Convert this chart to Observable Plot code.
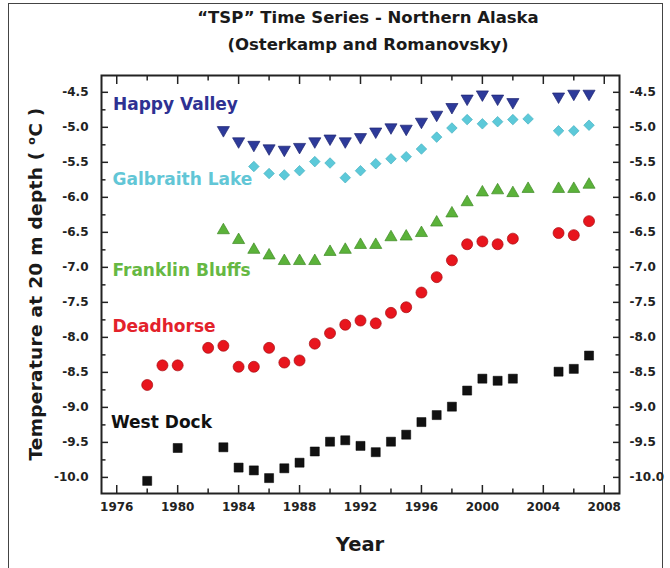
<!DOCTYPE html>
<html><head><meta charset="utf-8">
<script src="https://cdn.jsdelivr.net/npm/d3@7"></script>
<script src="https://cdn.jsdelivr.net/npm/@observablehq/plot@0.6"></script>
<style>
html,body{margin:0;padding:0;background:#fff;}
#wrap{position:relative;width:670px;height:568px;overflow:hidden;font-family:"DejaVu Sans",sans-serif;font-weight:bold;color:#1a1a1a;}
#border{position:absolute;left:8px;top:3px;width:653px;height:620px;border:1px solid #444;}
.t{position:absolute;left:109px;width:518px;text-align:center;font-size:16.5px;line-height:19px;}
#t1{top:8px;} #t2{top:35px;}
#ylab{position:absolute;left:35px;top:284px;transform:translate(-50%,-50%) rotate(-90deg);white-space:nowrap;font-size:18.5px;letter-spacing:0.3px;}
#ylab sup{font-size:11px;vertical-align:7px;}
#xlab{position:absolute;left:101px;width:518px;text-align:center;top:534px;font-size:19.5px;line-height:22px;}
#chart{position:absolute;left:0;top:60px;}
#chart svg{overflow:visible;}
</style></head>
<body>
<div id="wrap">
  <div id="border"></div>
  <div class="t" id="t1">“TSP” Time Series - Northern Alaska</div>
  <div class="t" id="t2">(Osterkamp and Romanovsky)</div>
  <div id="ylab">Temperature at 20 m depth ( <sup>o</sup>C )</div>
  <div id="xlab">Year</div>
  <div id="chart"></div>
</div>
<script>
// Tick values
const xMajor = [1976, 1980, 1984, 1988, 1992, 1996, 2000, 2004, 2008];
const xMinor = [1978, 1982, 1986, 1990, 1994, 1998, 2002, 2006];
const yMajor = [-10, -9.5, -9, -8.5, -8, -7.5, -7, -6.5, -6, -5.5, -5, -4.5];
const yMinor = [-9.75, -9.25, -8.75, -8.25, -7.75, -7.25, -6.75, -6.25, -5.75, -5.25, -4.75];

// Series
const happyYears = [1983,1984,1985,1986,1987,1988,1989,1990,1991,1992,1993,1994,1995,1996,1997,1998,1999,2000,2001,2002,2005,2006,2007];
const happyTemps = [-5.04,-5.20,-5.25,-5.30,-5.32,-5.28,-5.20,-5.16,-5.20,-5.14,-5.06,-5.00,-5.02,-4.92,-4.82,-4.71,-4.59,-4.53,-4.59,-4.64,-4.56,-4.52,-4.52];

const galbYears = [1985,1986,1987,1988,1989,1990,1991,1992,1993,1994,1995,1996,1997,1998,1999,2000,2001,2002,2003,2005,2006,2007];
const galbTemps = [-5.56,-5.66,-5.68,-5.62,-5.49,-5.51,-5.72,-5.62,-5.52,-5.45,-5.42,-5.31,-5.14,-5.01,-4.89,-4.95,-4.92,-4.89,-4.88,-5.05,-5.05,-4.97];

const frankYears = [1983,1984,1985,1986,1987,1988,1989,1990,1991,1992,1993,1994,1995,1996,1997,1998,1999,2000,2001,2002,2003,2005,2006,2007];
const frankTemps = [-6.47,-6.61,-6.75,-6.83,-6.91,-6.91,-6.91,-6.78,-6.75,-6.68,-6.68,-6.57,-6.56,-6.51,-6.36,-6.23,-6.07,-5.93,-5.90,-5.94,-5.88,-5.88,-5.88,-5.82];

const deadYears = [1978,1979,1980,1982,1983,1984,1985,1986,1987,1988,1989,1990,1991,1992,1993,1994,1995,1996,1997,1998,1999,2000,2001,2002,2005,2006,2007];
const deadTemps = [-8.68,-8.40,-8.40,-8.15,-8.12,-8.42,-8.42,-8.15,-8.36,-8.33,-8.09,-7.94,-7.82,-7.76,-7.80,-7.65,-7.57,-7.36,-7.14,-6.90,-6.67,-6.63,-6.67,-6.59,-6.51,-6.54,-6.34];

const westYears = [1978,1980,1983,1984,1985,1986,1987,1988,1989,1990,1991,1992,1993,1994,1995,1996,1997,1998,1999,2000,2001,2002,2005,2006,2007];
const westTemps = [-10.05,-9.58,-9.57,-9.86,-9.90,-10.01,-9.87,-9.79,-9.63,-9.49,-9.47,-9.55,-9.64,-9.49,-9.39,-9.21,-9.11,-8.99,-8.76,-8.59,-8.62,-8.59,-8.49,-8.45,-8.26];

// Series labels (anchored in data coordinates)
const labelNames = ["Happy Valley", "Galbraith Lake", "Franklin Bluffs", "Deadhorse", "West Dock"];
const labelYears = [1975.75, 1975.72, 1975.72, 1975.72, 1975.62];
const labelTemps = [-4.67, -5.74, -7.04, -7.85, -9.21];
const labelColors = ["#2e3192", "#62c6d6", "#66b843", "#e3222b", "#111111"];

const toRows = (ys, ts) => ys.map((year, i) => ({year, t: ts[i]}));
const labels = labelNames.map((name, i) => ({name, year: labelYears[i], t: labelTemps[i], color: labelColors[i]}));

const triDown = {draw(ctx, size) {
  const y = -Math.sqrt(size / (3 * Math.sqrt(3)));
  ctx.moveTo(0, -2 * y); ctx.lineTo(-Math.sqrt(3) * y, y); ctx.lineTo(Math.sqrt(3) * y, y); ctx.closePath();
}};
const diamond = {draw(ctx, size) {
  const d = Math.sqrt(size / 2);
  ctx.moveTo(0, -d); ctx.lineTo(d, 0); ctx.lineTo(0, d); ctx.lineTo(-d, 0); ctx.closePath();
}};

const tk = {stroke: "#222", strokeWidth: 1.5, text: null, label: null};
const inward = (s) => ({tickSize: s, inset: s});
const lab = {tickSize: 0, label: null, fill: "#222", fontSize: 12, fontWeight: "bold"};

const chart = Plot.plot({
  width: 670,
  height: 508,
  marginLeft: 101,
  marginRight: 51,
  marginTop: 15,
  marginBottom: 75,
  style: {fontFamily: "DejaVu Sans, sans-serif", fontWeight: "bold", fontSize: "12px", background: "transparent", color: "#222", overflow: "visible"},
  x: {domain: [1975, 2009], label: null},
  y: {domain: [-10.23, -4.26], label: null},
  marks: [
    Plot.axisX({...tk, anchor: "bottom", ticks: xMajor, ...inward(8)}),
    Plot.axisX({...tk, anchor: "bottom", ticks: xMinor, ...inward(4.5)}),
    Plot.axisX({...tk, anchor: "top", ticks: xMajor, ...inward(8)}),
    Plot.axisX({...tk, anchor: "top", ticks: xMinor, ...inward(4.5)}),
    Plot.axisY({...tk, anchor: "left", ticks: yMajor, ...inward(7)}),
    Plot.axisY({...tk, anchor: "left", ticks: yMinor, ...inward(4.5)}),
    Plot.axisY({...tk, anchor: "right", ticks: yMajor, ...inward(7)}),
    Plot.axisY({...tk, anchor: "right", ticks: yMinor, ...inward(4.5)}),
    Plot.axisX({...lab, anchor: "bottom", ticks: xMajor, tickPadding: 9, tickFormat: d => String(d)}),
    Plot.axisY({...lab, anchor: "left", ticks: yMajor, tickPadding: 13, tickFormat: d => d.toFixed(1)}),
    Plot.axisY({...lab, anchor: "right", ticks: yMajor, tickPadding: 10, tickFormat: d => d.toFixed(1)}),
    Plot.frame({stroke: "#222", strokeWidth: 2}),
    Plot.dot(toRows(westYears, westTemps), {x: "year", y: "t", symbol: "square", r: 5.1, fill: "#111", stroke: "#000", strokeWidth: 0.5}),
    Plot.dot(toRows(deadYears, deadTemps), {x: "year", y: "t", symbol: "circle", r: 5.5, fill: "#e8151d", stroke: "#a80d12", strokeWidth: 0.7}),
    Plot.dot(toRows(frankYears, frankTemps), {x: "year", y: "t", symbol: "triangle", r: 4.5, fill: "#5bb23a", stroke: "#3f8a25", strokeWidth: 0.7}),
    Plot.dot(toRows(galbYears, galbTemps), {x: "year", y: "t", symbol: diamond, r: 4.2, fill: "#5cc9d9", stroke: "#48b2c2", strokeWidth: 0.7}),
    Plot.dot(toRows(happyYears, happyTemps), {x: "year", y: "t", symbol: triDown, r: 4.5, fill: "#2d3a9a", stroke: "#1c2470", strokeWidth: 0.7}),
    Plot.text(labels, {x: "year", y: "t", text: "name", fill: "color", textAnchor: "start", fontSize: 17, fontWeight: "bold"})
  ]
});
document.getElementById("chart").appendChild(chart);
</script>
</body></html>
